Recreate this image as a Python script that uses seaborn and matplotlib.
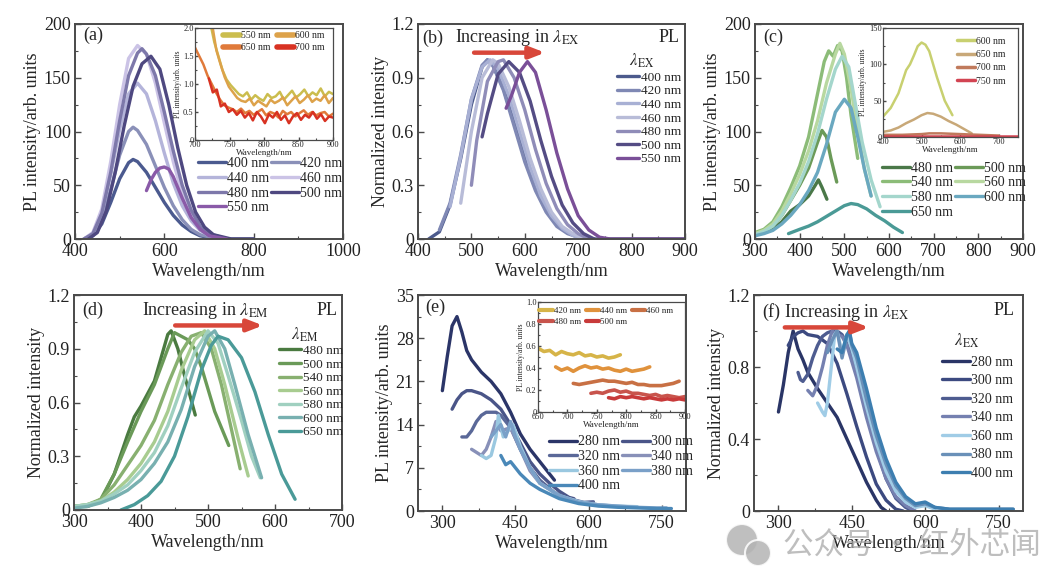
import numpy as np
import matplotlib
matplotlib.use("Agg")
import matplotlib.pyplot as plt
from matplotlib.patches import Ellipse
from matplotlib.ticker import MultipleLocator, FuncFormatter
import seaborn as sns

# ---------------- panel (a): PL spectra under different excitation
A_LABELS = ["400 nm", "420 nm", "440 nm", "460 nm", "480 nm", "500 nm", "550 nm"]
A_COLORS = ["#4b5a8f", "#8a90b8", "#b4b4da", "#cbc3e6", "#7d78aa", "#4e4880", "#8a5aa8"]
A_X = [
    [420, 440, 460, 480, 500, 520, 530, 540, 560, 580, 600, 620, 640, 660, 680, 700, 740, 800],
    [420, 440, 460, 480, 500, 520, 530, 540, 560, 580, 600, 620, 640, 660, 680, 700, 740],
    [420, 440, 460, 480, 500, 520, 540, 560, 580, 600, 620, 640, 660, 680, 700, 740],
    [420, 440, 460, 480, 500, 520, 540, 560, 580, 600, 620, 640, 660, 680, 700, 740],
    [420, 440, 460, 480, 500, 520, 540, 550, 560, 580, 600, 620, 640, 660, 680, 700, 740],
    [430, 450, 470, 490, 510, 530, 550, 570, 590, 610, 630, 650, 670, 690, 710, 750, 800],
    [560, 570, 580, 590, 600, 610, 620, 640, 660, 680, 700, 740],
]
A_Y = [
    [0, 3, 14, 34, 56, 71, 74, 72, 62, 48, 34, 22, 13, 7, 3, 1.5, 0, 0],
    [0, 4, 19, 46, 78, 100, 104, 101, 88, 68, 48, 31, 18, 9, 4, 2, 0],
    [0, 5, 24, 60, 102, 135, 145, 135, 110, 80, 52, 31, 17, 8, 3, 0],
    [0, 6, 28, 72, 125, 168, 180, 172, 145, 108, 72, 42, 22, 10, 4, 0],
    [0, 5, 24, 62, 110, 152, 173, 177, 172, 152, 118, 82, 50, 27, 12, 5, 0],
    [0, 6, 26, 62, 105, 142, 163, 170, 158, 125, 85, 50, 25, 11, 4, 0, 0],
    [45, 55, 62, 66, 67, 65, 58, 38, 20, 9, 3, 0],
]
# inset (a): weak NIR tails (start nm, end nm, values)
AI_LABELS = ["550 nm", "600 nm", "650 nm", "700 nm"]
AI_COLORS = ["#cbbd4e", "#dda24a", "#e07a3a", "#d83222"]
AI_RANGE = [(722, 900), (725, 900), (700, 900), (720, 900)]
AI_Y = [
    [2.1, 1.75, 1.5, 1.25, 1.08, 0.98, 0.9, 0.82, 0.78, 0.85, 0.72, 0.8, 0.74, 0.7, 0.82, 0.75,
     0.78, 0.86, 0.72, 0.8, 0.88, 0.76, 0.82, 0.9, 0.78, 0.85, 0.8, 0.92, 0.78, 0.86, 0.82],
    [2.05, 1.6, 1.35, 1.12, 0.95, 0.85, 0.75, 0.7, 0.68, 0.74, 0.62, 0.7, 0.65, 0.6, 0.72, 0.66,
     0.7, 0.76, 0.62, 0.7, 0.78, 0.66, 0.72, 0.8, 0.68, 0.74, 0.7, 0.8, 0.66, 0.75],
    [1.65, 1.5, 1.35, 1.15, 1.0, 0.85, 0.72, 0.62, 0.58, 0.55, 0.5, 0.56, 0.48, 0.52, 0.45, 0.5,
     0.55, 0.44, 0.5, 0.47, 0.4, 0.52, 0.46, 0.5, 0.42, 0.48, 0.53, 0.45, 0.5, 0.44, 0.48, 0.5, 0.42, 0.47],
    [1.1, 0.85, 0.9, 0.6, 0.65, 0.5, 0.55, 0.45, 0.52, 0.4, 0.48, 0.35, 0.5, 0.42, 0.3, 0.46,
     0.4, 0.5, 0.36, 0.44, 0.3, 0.42, 0.48, 0.36, 0.45, 0.4, 0.5, 0.38, 0.46, 0.34, 0.42, 0.4],
]

# ---------------- panel (b): normalized PL
B_LABELS = A_LABELS
B_COLORS = ["#4c5a8c", "#7f88b4", "#a8b0d4", "#b8bcd8", "#8f8cb8", "#544c84", "#7a4f98"]
B_X = [
    [420, 440, 460, 480, 500, 520, 530, 540, 560, 580, 600, 620, 640, 660, 680, 700, 720, 900],
    [440, 460, 480, 500, 520, 530, 540, 560, 580, 600, 620, 640, 660, 680, 700, 720],
    [460, 480, 500, 520, 535, 550, 570, 590, 610, 630, 650, 670, 690, 710],
    [480, 500, 520, 540, 550, 570, 590, 610, 630, 650, 670, 690, 710],
    [500, 510, 530, 550, 560, 580, 600, 620, 640, 660, 680, 700, 720],
    [520, 530, 550, 570, 590, 610, 630, 650, 670, 690, 710, 730],
    [565, 575, 590, 605, 620, 640, 660, 680, 700, 720, 740, 760, 900],
]
B_Y = [
    [0, 0.04, 0.19, 0.45, 0.75, 0.96, 1.0, 0.97, 0.84, 0.65, 0.46, 0.3, 0.17, 0.09, 0.04, 0.015, 0, 0],
    [0.05, 0.2, 0.47, 0.78, 0.97, 1.0, 0.97, 0.83, 0.63, 0.43, 0.27, 0.15, 0.07, 0.03, 0.01, 0],
    [0.18, 0.46, 0.78, 0.96, 1.0, 0.95, 0.8, 0.6, 0.4, 0.24, 0.13, 0.06, 0.02, 0],
    [0.2, 0.6, 0.9, 1.0, 0.98, 0.85, 0.66, 0.45, 0.28, 0.15, 0.07, 0.03, 0],
    [0.3, 0.55, 0.88, 0.99, 1.0, 0.9, 0.72, 0.5, 0.31, 0.17, 0.08, 0.03, 0],
    [0.57, 0.7, 0.92, 0.99, 0.93, 0.77, 0.55, 0.35, 0.19, 0.09, 0.03, 0],
    [0.73, 0.8, 0.93, 0.99, 0.93, 0.72, 0.48, 0.28, 0.13, 0.05, 0.01, 0, 0],
]

# ---------------- panel (c): PLE spectra at different emission wavelengths
C_LABELS = ["480 nm", "500 nm", "540 nm", "560 nm", "580 nm", "600 nm", "650 nm"]
C_COLORS = ["#4a7848", "#6b9a58", "#8cbc78", "#b8d8a0", "#a4d6cc", "#6aa8c0", "#4a9a96"]
C_X = [
    [300, 320, 340, 360, 380, 400, 420, 435, 442, 450, 461],
    [300, 320, 340, 360, 380, 400, 420, 440, 450, 460, 470, 483],
    [300, 320, 340, 360, 380, 400, 420, 440, 455, 465, 475, 485, 495, 505, 515, 530],
    [300, 320, 340, 360, 380, 400, 420, 440, 460, 480, 490, 500, 515, 530, 545, 560],
    [300, 320, 340, 360, 380, 400, 420, 440, 460, 480, 495, 510, 525, 540, 560, 580],
    [300, 320, 340, 360, 380, 400, 420, 440, 460, 480, 500, 515, 530, 545, 560],
    [375, 400, 420, 440, 460, 480, 500, 515, 530, 550, 570, 590, 610, 630],
]
C_Y = [
    [4, 6, 9, 16, 26, 32, 40, 50, 55, 48, 37],
    [5, 7, 12, 22, 36, 50, 66, 90, 101, 95, 75, 53],
    [6, 9, 16, 30, 48, 68, 95, 135, 165, 175, 170, 180, 175, 150, 115, 75],
    [5, 8, 14, 26, 42, 60, 82, 110, 145, 172, 182, 172, 140, 100, 65, 40],
    [4, 7, 12, 22, 36, 52, 72, 98, 130, 158, 170, 160, 125, 90, 55, 30],
    [3, 5, 8, 14, 22, 32, 45, 62, 88, 118, 130, 122, 95, 65, 40],
    [5, 9, 12, 16, 21, 26, 31, 33, 32, 28, 22, 17, 11, 6],
]
CI_LABELS = ["600 nm", "650 nm", "700 nm", "750 nm"]
CI_COLORS = ["#c8d070", "#c8a878", "#c07a5c", "#d24452"]
CI_X = [
    [400, 420, 440, 460, 470, 480, 490, 500, 510, 520, 530, 540, 560, 580],
    [400, 420, 440, 460, 480, 500, 515, 530, 550, 570, 590, 610, 630],
    [400, 450, 500, 520, 550, 600, 650, 700],
    [400, 500, 600, 700, 750],
]
CI_Y = [
    [28, 40, 60, 92, 100, 112, 125, 130, 127, 118, 100, 82, 50, 30],
    [7, 9, 13, 19, 24, 30, 33, 32, 28, 22, 17, 11, 5],
    [3, 3, 4, 5, 5, 4, 3, 2],
    [1, 1, 1, 1, 1],
]

# ---------------- panel (d): normalized PLE
D_LABELS = C_LABELS
D_COLORS = ["#4a7a40", "#6a9a58", "#88b070", "#a8cc90", "#a0d0c0", "#78b0b0", "#4a9a98"]
D_X = [
    [300, 320, 340, 360, 380, 390, 400, 420, 440, 445, 455, 465, 481],
    [300, 320, 340, 360, 380, 400, 420, 440, 450, 460, 470, 480, 490, 510, 531],
    [300, 320, 340, 360, 380, 400, 420, 440, 460, 475, 490, 505, 520, 535, 548],
    [300, 320, 340, 360, 380, 400, 420, 440, 460, 480, 495, 510, 525, 545, 560],
    [300, 320, 340, 360, 380, 400, 420, 440, 460, 480, 500, 515, 530, 550, 565, 578],
    [300, 320, 340, 360, 380, 400, 420, 440, 460, 480, 500, 510, 525, 540, 560, 580],
    [370, 390, 410, 430, 450, 470, 490, 505, 515, 530, 550, 570, 590, 610, 630],
]
D_Y = [
    [0.02, 0.02, 0.05, 0.2, 0.42, 0.52, 0.58, 0.72, 0.98, 1.0, 0.9, 0.75, 0.53],
    [0.02, 0.02, 0.06, 0.2, 0.38, 0.55, 0.7, 0.9, 0.99, 0.97, 0.95, 0.9, 0.8, 0.55, 0.36],
    [0.02, 0.03, 0.06, 0.14, 0.25, 0.36, 0.5, 0.7, 0.88, 0.97, 0.99, 0.9, 0.7, 0.45, 0.23],
    [0.02, 0.03, 0.05, 0.1, 0.17, 0.26, 0.38, 0.55, 0.78, 0.95, 1.0, 0.9, 0.7, 0.4, 0.19],
    [0.02, 0.03, 0.05, 0.09, 0.14, 0.22, 0.32, 0.47, 0.68, 0.88, 1.0, 0.93, 0.75, 0.5, 0.3, 0.18],
    [0.01, 0.02, 0.04, 0.07, 0.11, 0.17, 0.26, 0.38, 0.56, 0.8, 0.97, 1.0, 0.9, 0.7, 0.42, 0.18],
    [0, 0.03, 0.08, 0.16, 0.3, 0.52, 0.78, 0.92, 0.97, 0.95, 0.85, 0.66, 0.42, 0.2, 0.06],
]

# ---------------- panel (e): PL under UV excitation
E_LABELS = ["280 nm", "300 nm", "320 nm", "340 nm", "360 nm", "380 nm", "400 nm"]
E_COLORS = ["#2b3568", "#4a5588", "#5a6898", "#8890b8", "#9ac8e0", "#7aa0c8", "#4a88b8"]
E_X = [
    [300, 310, 320, 330, 340, 350, 360, 380, 400, 420, 440, 460, 480, 500, 520, 530],
    [320, 330, 340, 350, 360, 380, 400, 420, 440, 460, 480, 500, 520, 540, 560, 570],
    [340, 350, 360, 370, 380, 390, 400, 410, 420, 440, 460, 480, 500, 530, 560, 590, 610],
    [360, 370, 380, 390, 400, 410, 420, 440, 460, 480, 500, 540, 580, 620, 650],
    [380, 390, 400, 410, 415, 425, 435, 445, 460, 480, 500, 540, 580, 620, 660, 700],
    [400, 410, 420, 430, 440, 450, 460, 480, 500, 540, 580, 620, 660, 700, 740, 760],
    [420, 430, 440, 450, 460, 480, 500, 540, 580, 620, 660, 700, 740, 770],
]
E_Y = [
    [19.5, 25, 30, 31.5, 29, 26, 24.5, 22.5, 21, 19, 16, 12.5, 10, 8, 6, 5],
    [16.5, 18, 19, 19.5, 19.5, 19, 18, 16.5, 14, 11, 8, 6, 4.5, 3.2, 2.2, 2],
    [12, 12, 13, 14.5, 15.5, 16, 16, 16, 15.5, 13.5, 10, 7, 5, 3, 2, 1.4, 1.5],
    [10, 9.5, 9, 10, 12, 14.5, 13, 13.5, 10, 6.5, 4.5, 2.5, 1.5, 1, 0.8],
    [9, 8.5, 9, 12, 15.5, 12, 13, 14, 10.5, 7, 4.5, 2.5, 1.5, 1, 0.8, 0.7],
    [12, 13, 14, 12, 14.5, 12, 10, 7, 4.5, 2.5, 1.4, 1, 0.8, 0.6, 0.5, 0.5],
    [9, 7.5, 8, 7, 6, 4.5, 3.5, 2, 1.2, 0.8, 0.6, 0.5, 0.4, 0.4],
]
EI_LABELS = ["420 nm", "440 nm", "460 nm", "480 nm", "500 nm"]
EI_COLORS = ["#d6b448", "#e0923c", "#c87044", "#c8544c", "#c83a3a"]
EI_RANGE = [(650, 790), (680, 840), (710, 890), (740, 900), (770, 900)]
EI_Y = [
    [0.58, 0.55, 0.56, 0.52, 0.55, 0.53, 0.52, 0.54, 0.51, 0.52, 0.5, 0.51, 0.49, 0.5, 0.52],
    [0.41, 0.38, 0.4, 0.37, 0.4, 0.42, 0.4, 0.41, 0.39, 0.4, 0.38, 0.37, 0.39, 0.37, 0.38, 0.39, 0.41],
    [0.26, 0.25, 0.26, 0.27, 0.28, 0.29, 0.28, 0.28, 0.27, 0.26, 0.27, 0.25, 0.25, 0.24, 0.24, 0.24, 0.25, 0.26, 0.28],
    [0.17, 0.18, 0.17, 0.19, 0.2, 0.18, 0.19, 0.17, 0.17, 0.16, 0.15, 0.16, 0.14, 0.15, 0.14, 0.13, 0.14],
    [0.13, 0.12, 0.14, 0.13, 0.14, 0.13, 0.12, 0.13, 0.12, 0.11, 0.12, 0.11, 0.12, 0.11],
]

# ---------------- panel (f): normalized PL under UV excitation
F_LABELS = E_LABELS
F_COLORS = ["#2a3566", "#3c4a80", "#4e5c90", "#7580b0", "#a0cce6", "#6a90b8", "#3d7eb0"]
F_X = [
    [300, 310, 320, 330, 340, 350, 360, 380, 400, 420, 440, 460, 480, 500, 510, 520],
    [320, 330, 340, 350, 360, 380, 400, 420, 440, 460, 480, 500, 520, 540, 555],
    [340, 345, 350, 360, 370, 380, 390, 400, 410, 420, 430, 440, 460, 480, 500, 520, 540, 560, 575],
    [360, 370, 380, 390, 400, 410, 420, 430, 440, 460, 480, 500, 520, 540, 560, 580],
    [380, 390, 395, 400, 410, 415, 420, 430, 440, 450, 460, 480, 500, 520, 540, 560, 580, 600, 620],
    [400, 410, 420, 430, 440, 445, 450, 460, 480, 500, 520, 540, 560, 580, 600, 620, 650, 700, 780],
    [420, 430, 440, 445, 450, 460, 480, 500, 520, 540, 560, 580, 600, 620, 650, 700, 780],
]
F_Y = [
    [0.55, 0.7, 0.88, 1.0, 0.9, 0.84, 0.77, 0.68, 0.6, 0.52, 0.4, 0.28, 0.16, 0.06, 0.02, 0],
    [0.92, 0.97, 0.99, 1.0, 0.98, 0.97, 0.93, 0.82, 0.65, 0.47, 0.3, 0.15, 0.06, 0.01, 0],
    [0.77, 0.73, 0.72, 0.76, 0.85, 0.92, 0.97, 0.99, 1.0, 1.0, 0.98, 0.93, 0.78, 0.56, 0.35, 0.18, 0.07, 0.02, 0],
    [0.67, 0.64, 0.7, 0.8, 0.92, 1.0, 0.98, 0.97, 0.92, 0.74, 0.52, 0.33, 0.18, 0.08, 0.03, 0],
    [0.6, 0.55, 0.53, 0.6, 0.85, 0.98, 1.0, 0.88, 0.98, 0.9, 0.8, 0.58, 0.38, 0.22, 0.11, 0.05, 0.02, 0.03, 0.01],
    [0.88, 0.95, 1.0, 0.85, 0.97, 1.0, 0.92, 0.85, 0.62, 0.42, 0.26, 0.14, 0.07, 0.03, 0.04, 0.02, 0.01, 0.01, 0.01],
    [0.9, 0.88, 0.98, 1.0, 0.93, 0.88, 0.68, 0.46, 0.29, 0.16, 0.08, 0.04, 0.05, 0.02, 0.01, 0.01, 0.01],
]

# ---------------- style
sns.set_style("ticks")
plt.rcParams["font.family"] = ["Liberation Serif", "DejaVu Serif"]
plt.rcParams["mathtext.fontset"] = "stix"

W, H = 1050, 579
fig = plt.figure(figsize=(10.5, 5.79), dpi=100)
ARROW_RED = "#d8473a"
SPINE = "#4a4a4a"

# legend order so that matplotlib's column filling reads row by row
ROWS_2COL_7 = [0, 2, 4, 6, 1, 3, 5]
ROWS_2COL_4 = [0, 2, 1, 3]
ROWS_3COL_5 = [0, 3, 1, 4, 2]


def px_axes(x0, y0, x1, y1):
    # pixel box (top-left origin) -> figure axes
    return fig.add_axes([x0 / W, 1 - y1 / H, (x1 - x0) / W, (y1 - y0) / H])


def fmt_zero(dec):
    return FuncFormatter(lambda v, _: "0" if abs(v) < 1e-9 else f"{v:.{dec}f}")


def style(ax, xlim, ylim, xt, yt, dec=0, fs=13, small=False):
    ax.set_xlim(xlim)
    ax.set_ylim(ylim)
    ax.xaxis.set_major_locator(MultipleLocator(xt))
    ax.xaxis.set_minor_locator(MultipleLocator(xt / 2))
    ax.yaxis.set_major_locator(MultipleLocator(yt))
    ax.yaxis.set_minor_locator(MultipleLocator(yt / 2))
    ax.yaxis.set_major_formatter(fmt_zero(dec))
    ln = 2 if small else 4
    ax.tick_params(which="major", direction="in", length=ln, width=1, labelsize=fs,
                   pad=1 if small else 3, colors=SPINE, labelcolor="#222222")
    ax.tick_params(which="minor", direction="in", length=ln * 0.6, width=0.8, colors=SPINE)
    for s in ax.spines.values():
        s.set_visible(True)
        s.set_color(SPINE)
        s.set_linewidth(0.9 if small else 1.4)


def draw(ax, xs, ys, labels, colors, lw=2.2):
    for x, y, lab, c in zip(xs, ys, labels, colors):
        sns.lineplot(x=x, y=y, ax=ax, color=c, lw=lw, label=lab,
                     sort=False, estimator=None)


def main_labels(ax, ylab):
    ax.set_xlabel("Wavelength/nm", fontsize=13, labelpad=2)
    ax.set_ylabel(ylab, fontsize=13, labelpad=2)


def legend(ax, loc_xy, ncol=1, fs=10, title=None, hl=1.8, ls=0.12, cs=0.1, lw=None, order=None):
    handles, labels = ax.get_legend_handles_labels()
    if order is not None:
        handles = [handles[i] for i in order]
        labels = [labels[i] for i in order]
    leg = ax.legend(handles, labels, loc="upper left", bbox_to_anchor=loc_xy, ncol=ncol,
                    fontsize=fs, frameon=False, handlelength=hl, handletextpad=0.1,
                    columnspacing=cs, labelspacing=ls, borderaxespad=0, borderpad=0,
                    title=title, title_fontsize=12, alignment="left")
    if lw is not None:
        for ln in leg.get_lines():
            ln.set_linewidth(lw)
    return leg


def arrow(ax, x0, x1, y):
    ax.annotate("", xy=(x1, y), xytext=(x0, y),
                arrowprops=dict(arrowstyle="-|>,head_length=0.9,head_width=0.35",
                                color=ARROW_RED, lw=3.2, shrinkA=0, shrinkB=0))


def inset_labels(ax, fs=6):
    ax.set_xlabel("Wavelength/nm", fontsize=fs + 0.5, labelpad=0)
    ax.set_ylabel("PL intensity/arb. units", fontsize=fs - 0.5, labelpad=1)


# ---------------- (a)
ax = px_axes(75, 24, 343, 239)
draw(ax, A_X, A_Y, A_LABELS, A_COLORS, lw=2.4)
style(ax, (400, 1000), (0, 200), 200, 50)
main_labels(ax, "PL intensity/arb. units")
legend(ax, (0.46, 0.38), ncol=2, fs=10, hl=2.0, order=ROWS_2COL_7)
ax.text(0.03, 0.945, "(a)", transform=ax.transAxes, fontsize=13, va="center")

axi = px_axes(195, 28, 333, 140)
for (s, e), y, lab, c in zip(AI_RANGE, AI_Y, AI_LABELS, AI_COLORS):
    sns.lineplot(x=np.linspace(s, e, len(y)), y=y, ax=axi, color=c, lw=1.8,
                 label=lab, sort=False, estimator=None)
style(axi, (700, 900), (0, 2.0), 50, 0.5, dec=1, fs=6, small=True)
inset_labels(axi)
legend(axi, (0.2, 0.97), ncol=2, fs=7, hl=1.8, ls=0.3, cs=0.6, lw=4, order=ROWS_2COL_4)

# ---------------- (b)
ax = px_axes(418, 24, 685, 239)
draw(ax, B_X, B_Y, B_LABELS, B_COLORS, lw=2.4)
style(ax, (400, 900), (0, 1.2), 100, 0.3, dec=1)
main_labels(ax, "Normalized intensity")
legend(ax, (0.745, 0.87), fs=9.5, title=r"   $\lambda_{\rm EX}$", hl=1.7, ls=0.1)
ax.text(0.015, 0.935, "(b)", transform=ax.transAxes, fontsize=13, va="center")
ax.text(0.14, 0.935, r"Increasing in $\lambda_{\rm EX}$", transform=ax.transAxes,
        fontsize=13, va="center")
ax.text(0.98, 0.935, "PL", transform=ax.transAxes, fontsize=13, va="center", ha="right")
arrow(ax, 505, 638, 1.04)

# ---------------- (c)
ax = px_axes(755, 24, 1023, 239)
draw(ax, C_X, C_Y, C_LABELS, C_COLORS, lw=2.4)
style(ax, (300, 900), (0, 200), 100, 50)
main_labels(ax, "PL intensity/arb. units")
legend(ax, (0.475, 0.36), ncol=2, fs=10, hl=2.0, order=ROWS_2COL_7)
ax.text(0.03, 0.94, "(c)", transform=ax.transAxes, fontsize=13, va="center")

axi = px_axes(883, 28, 1018, 137)
draw(axi, CI_X, CI_Y, CI_LABELS, CI_COLORS, lw=1.8)
style(axi, (400, 750), (0, 150), 100, 50, fs=6, small=True)
inset_labels(axi)
legend(axi, (0.55, 0.92), fs=7, hl=1.8, ls=0.45, lw=2.5)

# ---------------- (d)
ax = px_axes(74, 295, 342, 510)
draw(ax, D_X, D_Y, D_LABELS, D_COLORS, lw=2.4)
style(ax, (300, 700), (0, 1.2), 100, 0.3, dec=1)
main_labels(ax, "Normalized intensity")
legend(ax, (0.765, 0.86), fs=9.5, title=r"   $\lambda_{\rm EM}$", hl=1.7, ls=0.1)
ax.text(0.03, 0.93, "(d)", transform=ax.transAxes, fontsize=13, va="center")
ax.text(0.255, 0.93, r"Increasing in $\lambda_{\rm EM}$", transform=ax.transAxes,
        fontsize=13, va="center")
ax.text(0.985, 0.93, "PL", transform=ax.transAxes, fontsize=13, va="center", ha="right")
arrow(ax, 451, 582, 1.03)

# ---------------- (e)
ax = px_axes(418, 295, 686, 511)
draw(ax, E_X, E_Y, E_LABELS, E_COLORS, lw=2.4)
style(ax, (250, 800), (0, 35), 150, 7)
main_labels(ax, "PL intensity/arb. units")
legend(ax, (0.49, 0.35), ncol=2, fs=10, hl=2.0, order=ROWS_2COL_7)
ax.text(0.026, 0.944, "(e)", transform=ax.transAxes, fontsize=13, va="center")

axi = px_axes(538, 302, 685, 412)
for (s, e), y, lab, c in zip(EI_RANGE, EI_Y, EI_LABELS, EI_COLORS):
    sns.lineplot(x=np.linspace(s, e, len(y)), y=y, ax=axi, color=c, lw=2.6,
                 label=lab, sort=False, estimator=None)
style(axi, (650, 900), (0, 1.0), 50, 0.2, dec=1, fs=6, small=True)
inset_labels(axi)
legend(axi, (0.01, 0.96), ncol=3, fs=6.5, hl=1.5, ls=0.3, cs=0.5, lw=3, order=ROWS_3COL_5)

# ---------------- (f)
ax = px_axes(754, 295, 1023, 511)
draw(ax, F_X, F_Y, F_LABELS, F_COLORS, lw=2.4)
style(ax, (250, 800), (0, 1.2), 150, 0.4, dec=1)
main_labels(ax, "Normalized intensity")
legend(ax, (0.70, 0.83), fs=10, title=r"   $\lambda_{\rm EX}$", hl=2.0, ls=0.4)
ax.text(0.03, 0.92, r"(f) Increasing in $\lambda_{\rm EX}$", transform=ax.transAxes,
        fontsize=13, va="center")
ax.text(0.97, 0.93, "PL", transform=ax.transAxes, fontsize=13, va="center", ha="right")
arrow(ax, 313, 485, 1.02)

# ---------------- watermark (WeChat-style badge + account name)
for cx, cy, r in [(742, 540, 16), (758, 553, 13)]:
    fig.patches.append(Ellipse((cx / W, 1 - cy / H), 2 * r / W, 2 * r / H,
                               transform=fig.transFigure, facecolor="#b4b4b4",
                               edgecolor="white", lw=1.5, alpha=0.85, zorder=20))
fig.text(783 / W, 1 - 545 / H, "公众号 · 红外芯闻", fontsize=22, color="#a8a8a8",
         alpha=0.75, va="center", ha="left", zorder=21,
         family=["Noto Sans CJK SC", "DejaVu Sans"])

fig.savefig("out.png", dpi=100)
